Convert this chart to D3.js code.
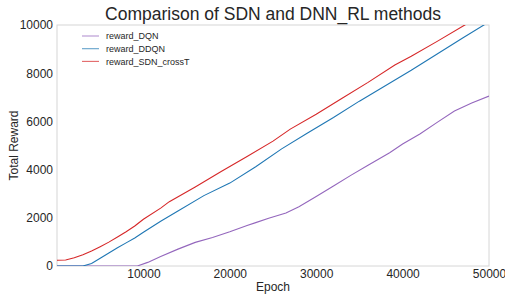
<!DOCTYPE html>
<html>
<head>
  <meta charset="utf-8">
  <title>Comparison of SDN and DNN_RL methods</title>
  <style>
    body { margin: 0; background: #fff; }
    text { font-family: "Liberation Sans", Arial, sans-serif; fill: #262626; }
  </style>
</head>
<body>
  <svg id="chart"></svg>

  <script src="https://d3js.org/d3.v7.min.js"></script>
  <script>
    // data (epoch, total reward)
    const epochsDQN  = [0, 9300, 10500, 12000, 14000, 16000, 18000, 20000, 22000, 23000, 24500, 26500, 28000, 30000, 32000, 34000, 36000, 38500, 40000, 42000, 44000, 46000, 48000, 50000];
    const rewardDQN  = [0, 0, 150, 390, 700, 980, 1180, 1420, 1680, 1800, 1980, 2200, 2460, 2880, 3320, 3760, 4180, 4700, 5060, 5480, 5960, 6430, 6760, 7050];

    const epochsDDQN = [0, 3000, 4000, 5000, 6000, 7000, 8000, 9000, 10000, 12000, 14000, 17000, 20000, 23000, 26000, 29000, 32000, 35000, 38000, 41000, 44000, 47000, 50000];
    const rewardDDQN = [0, 0, 100, 320, 540, 760, 960, 1160, 1400, 1860, 2280, 2920, 3440, 4120, 4860, 5520, 6160, 6840, 7480, 8120, 8800, 9470, 10130];

    const epochsSDN  = [0, 1000, 2000, 3000, 4000, 5000, 6000, 7000, 8000, 9000, 10000, 12000, 13000, 16000, 19000, 22000, 25000, 27000, 30000, 33000, 36000, 39100, 41000, 44000, 47200, 50000];
    const rewardSDN  = [240, 250, 340, 470, 620, 800, 990, 1200, 1420, 1660, 1940, 2400, 2670, 3280, 3920, 4540, 5180, 5680, 6300, 6960, 7620, 8340, 8700, 9320, 10000, 10580];

    const seriesNames = ["reward_DQN", "reward_DDQN", "reward_SDN_crossT"];
    const seriesColors = ["#9467bd", "#1f77b4", "#d62728"];
    const xTicks = [10000, 20000, 30000, 40000, 50000];
    const yTicks = [0, 2000, 4000, 6000, 8000, 10000];

    const width = 505, height = 294;
    const margin = { top: 25, right: 16, bottom: 28, left: 57 };

    const svg = d3.select("#chart")
      .attr("width", width)
      .attr("height", height);

    const x = d3.scaleLinear().domain([0, 50000]).range([margin.left, width - margin.right]);
    const y = d3.scaleLinear().domain([0, 10000]).range([height - margin.bottom, margin.top]);

    svg.append("defs").append("clipPath").attr("id", "clip")
      .append("rect")
      .attr("x", x(0)).attr("y", y(10000))
      .attr("width", x(50000) - x(0)).attr("height", y(0) - y(10000));

    // frame
    svg.append("rect")
      .attr("x", x(0)).attr("y", y(10000))
      .attr("width", x(50000) - x(0)).attr("height", y(0) - y(10000))
      .attr("fill", "none").attr("stroke", "#d6d6d6").attr("stroke-width", 1);

    // axes
    const xAxis = svg.append("g")
      .attr("transform", `translate(0,${y(0)})`)
      .call(d3.axisBottom(x).tickValues(xTicks).tickSize(0).tickPadding(3).tickFormat(d3.format("d")));
    xAxis.select(".domain").remove();
    xAxis.selectAll("text").style("font-size", "12px").attr("fill", "#262626");

    const yAxis = svg.append("g")
      .attr("transform", `translate(${x(0)},0)`)
      .call(d3.axisLeft(y).tickValues(yTicks).tickSize(0).tickPadding(4).tickFormat(d3.format("d")));
    yAxis.select(".domain").remove();
    yAxis.selectAll("text").style("font-size", "12px").attr("fill", "#262626");

    // lines
    const line = d3.line().x(d => x(d[0])).y(d => y(d[1]));
    const series = [
      d3.zip(epochsDQN, rewardDQN),
      d3.zip(epochsDDQN, rewardDDQN),
      d3.zip(epochsSDN, rewardSDN)
    ];
    svg.append("g").attr("clip-path", "url(#clip)")
      .selectAll("path")
      .data(series)
      .enter().append("path")
      .attr("d", line)
      .attr("fill", "none")
      .attr("stroke", (d, i) => seriesColors[i])
      .attr("stroke-width", 1.1);

    // title and labels
    svg.append("text")
      .attr("x", (x(0) + x(50000)) / 2).attr("y", 20)
      .attr("text-anchor", "middle")
      .style("font-size", "17.5px")
      .text("Comparison of SDN and DNN_RL methods");

    svg.append("text")
      .attr("x", (x(0) + x(50000)) / 2).attr("y", 291)
      .attr("text-anchor", "middle")
      .style("font-size", "12px")
      .text("Epoch");

    svg.append("text")
      .attr("transform", `translate(18,${(y(0) + y(10000)) / 2}) rotate(-90)`)
      .attr("text-anchor", "middle")
      .style("font-size", "12px")
      .text("Total Reward");

    // legend
    const legend = svg.append("g").attr("transform", "translate(82,36)");
    const items = legend.selectAll("g")
      .data(seriesNames)
      .enter().append("g")
      .attr("transform", (d, i) => `translate(0,${i * 12.7})`);
    items.append("line")
      .attr("x1", 0).attr("x2", 17)
      .attr("stroke", (d, i) => seriesColors[i])
      .attr("stroke-opacity", 0.7)
      .attr("stroke-width", 1.1);
    items.append("text")
      .attr("x", 24).attr("y", 3.3)
      .style("font-size", "9px")
      .text(d => d);
  </script>
</body>
</html>
